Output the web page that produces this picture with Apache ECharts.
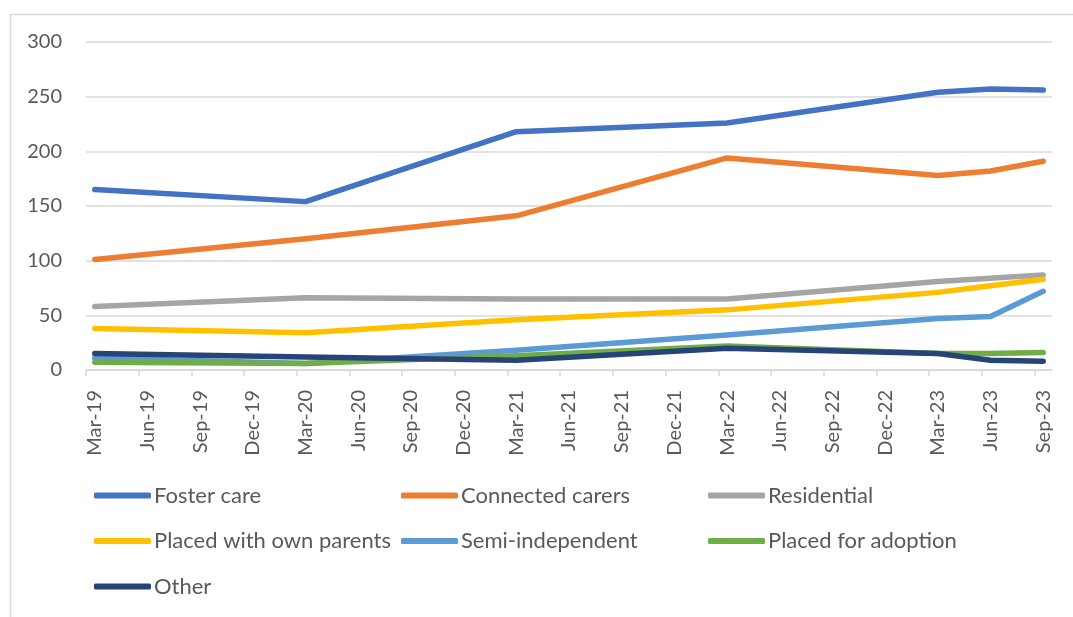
<!DOCTYPE html>
<html>
<head>
<meta charset="utf-8">
<script src="https://cdn.jsdelivr.net/npm/echarts@6/dist/echarts.min.js"></script>
<style>html,body{margin:0;padding:0;background:#fff}#c{width:1073px;height:617px}</style>
</head>
<body>
<div id="c"></div>
<script>
// Quarterly tick labels (date axis, base unit = month, major unit = 3 months)
var tickLabels = ['Mar-19','Jun-19','Sep-19','Dec-19','Mar-20','Jun-20','Sep-20','Dec-20','Mar-21','Jun-21','Sep-21','Dec-21','Mar-22','Jun-22','Sep-22','Dec-22','Mar-23','Jun-23','Sep-23'];
// Observation dates
var pointDates = ['Mar-19','Mar-20','Mar-21','Mar-22','Mar-23','Jun-23','Sep-23'];
// Series values
var fosterCare       = [165, 154, 218, 226, 254, 257, 256];
var connectedCarers  = [101, 120, 141, 194, 178, 182, 191];
var residential      = [58, 66, 65, 65, 81, 84, 87];
var ownParents       = [38, 34, 46, 55, 71, 77, 83];
var semiIndependent  = [11, 6, 18, 32, 47, 49, 72];
var adoption         = [7, 6, 13, 22, 15, 15, 16];
var other            = [15, 12, 9, 20, 15, 9, 8];
var yTicks = [0, 50, 100, 150, 200, 250, 300];

var seriesDefs = [
  {name:'Foster care', data:fosterCare, color:'#4472C4'},
  {name:'Connected carers', data:connectedCarers, color:'#ED7D31'},
  {name:'Residential', data:residential, color:'#A5A5A5'},
  {name:'Placed with own parents', data:ownParents, color:'#FFC000'},
  {name:'Semi-independent', data:semiIndependent, color:'#5B9BD5'},
  {name:'Placed for adoption', data:adoption, color:'#70AD47'},
  {name:'Other', data:other, color:'#264478'}
];

// month index of each quarter label; points sit in the middle of their month slot
function monthIndex(lbl){ return tickLabels.indexOf(lbl) * 3; }
var tickVals = tickLabels.map(function(l){ return monthIndex(l); });
var labelVals = tickLabels.map(function(l){ return monthIndex(l) + 0.5; });

var FONT = 'Lato';
var TXT = '#595959';

var series = seriesDefs.map(function(s){
  return {
    name: s.name, type: 'line', symbol: 'none', smooth: false,
    data: s.data.map(function(v, i){ return [monthIndex(pointDates[i]) + 0.5, v]; }),
    lineStyle: {width: 5.5, color: s.color, cap: 'round', join: 'round'},
    itemStyle: {color: s.color},
    emphasis: {disabled: true},
    z: 2
  };
});

// legend placement: three columns
var legendPos = [
  [94, 495.5], [401, 495.5], [708, 495.5],
  [94, 541], [401, 541], [708, 541],
  [94, 586.5]
];
var legends = seriesDefs.map(function(s, i){
  return {
    data: [s.name], left: legendPos[i][0], top: legendPos[i][1] - 13,
    icon: 'roundRect', itemWidth: 57, itemHeight: 6, padding: 0,
    textStyle: {fontFamily: FONT, fontSize: 22, color: TXT, lineHeight: 26, padding: [0,0,0,-2]},
    selectedMode: false
  };
});

var option = {
  animation: false,
  backgroundColor: '#fff',
  grid: {left: 86, right: 21, top: 42, bottom: 247, containLabel: false},
  legend: legends,
  xAxis: {
    type: 'value', min: 0, max: 55,
    axisLine: {show: true, lineStyle: {color: '#D9D9D9', width: 1.5}},
    axisTick: {show: true, length: 6, lineStyle: {color: '#D9D9D9', width: 1.5}, customValues: tickVals},
    axisLabel: {
      customValues: labelVals, rotate: 90, margin: 20,
      fontFamily: FONT, fontSize: 20, color: TXT,
      formatter: function(v){ var i = labelVals.indexOf(v); return i >= 0 ? tickLabels[i] : ''; }
    },
    splitLine: {show: false}
  },
  yAxis: {
    type: 'value', min: yTicks[0], max: yTicks[yTicks.length-1], interval: 50,
    axisLine: {show: false}, axisTick: {show: false},
    axisLabel: {margin: 24, fontFamily: FONT, fontSize: 20, color: TXT},
    splitLine: {show: true, lineStyle: {color: '#D9D9D9', width: 1.5}}
  },
  graphic: [{
    type: 'rect', left: 8, top: 12, silent: true,
    shape: {width: 1100, height: 700},
    style: {fill: 'none', stroke: '#D9D9D9', lineWidth: 1.5}
  }],
  series: series
};

var chart = echarts.init(document.getElementById('c'), null, {renderer: 'canvas'});
chart.setOption(option);
</script>
</body>
</html>
